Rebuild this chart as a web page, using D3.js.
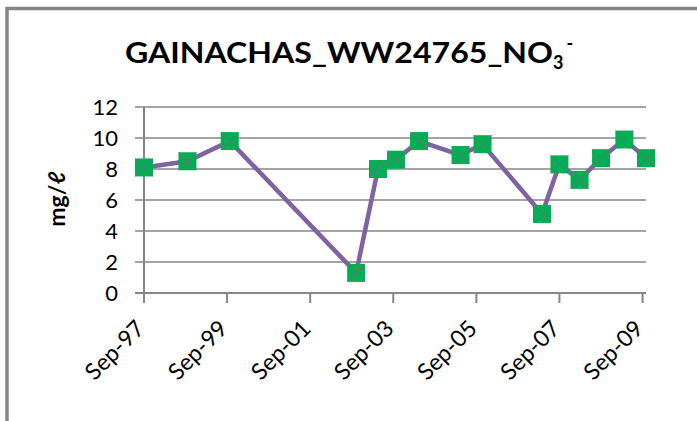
<!DOCTYPE html>
<html>
<head>
<meta charset="utf-8">
<script src="https://cdn.jsdelivr.net/npm/d3@7"></script>
<style>
  body { margin: 0; background: #fff; }
  text { font-family: Lato, "Open Sans", "DejaVu Sans", sans-serif; }
</style>
</head>
<body>
<div id="chart"></div>
<script>
// sample dates and NO3 values (mg/l)
var sampleDates = ["1997-09-01", "1998-09-18", "1999-09-25", "2002-10-10", "2003-04-20",
                   "2003-09-25", "2004-04-15", "2005-04-15", "2005-10-25", "2007-04-01",
                   "2007-09-01", "2008-02-25", "2008-09-01", "2009-03-25", "2009-10-01"];
var no3Values = [8.1, 8.5, 9.8, 1.3, 8.0, 8.6, 9.8, 8.9, 9.6, 5.1, 8.3, 7.3, 8.7, 9.9, 8.7];

// axis ticks
var xTickDates = ["1997-09-01", "1999-09-01", "2001-09-01", "2003-09-01", "2005-09-01", "2007-09-01", "2009-09-01"];
var xTickLabels = ["Sep-97", "Sep-99", "Sep-01", "Sep-03", "Sep-05", "Sep-07", "Sep-09"];
var yTicks = [0, 2, 4, 6, 8, 10, 12];

var parseDate = d3.timeParse("%Y-%m-%d");
var data = sampleDates.map(function(d, i) { return {date: parseDate(d), value: no3Values[i]}; });

var W = 697, H = 421;
var margin = {top: 107, right: 51, bottom: 128, left: 144};
var width = W - margin.left - margin.right,
    height = H - margin.top - margin.bottom;

var svg = d3.select("#chart").append("svg")
    .attr("width", W)
    .attr("height", H);

// chart frame (only top and left edges visible)
svg.append("rect")
    .attr("x", 7).attr("y", 8.5)
    .attr("width", W + 10).attr("height", H + 10)
    .attr("fill", "none")
    .attr("stroke", "#868686")
    .attr("stroke-width", 3.5);

// title
var title = svg.append("text")
    .attr("x", 125).attr("y", 63)
    .attr("font-weight", "bold")
    .attr("font-size", 28)
    .attr("fill", "#000");
title.append("tspan")
    .attr("textLength", 428)
    .attr("lengthAdjust", "spacingAndGlyphs")
    .text("GAINACHAS_WW24765_NO");
title.append("tspan").attr("font-size", 18).attr("dy", 6).text("3");
title.append("tspan").attr("font-size", 18).attr("dy", -19).attr("dx", 3).text("-");

var g = svg.append("g")
    .attr("transform", "translate(" + margin.left + "," + margin.top + ")");

var x = d3.scaleTime()
    .domain([parseDate(xTickDates[0]), parseDate("2009-10-01")])
    .range([0, width]);

var y = d3.scaleLinear()
    .domain([0, 12])
    .range([height, 0]);

// gridlines + y axis ticks
g.selectAll(".grid")
    .data(yTicks.filter(function(d) { return d > 0; }))
    .enter().append("line")
    .attr("x1", -9).attr("x2", width)
    .attr("y1", function(d) { return y(d); })
    .attr("y2", function(d) { return y(d); })
    .attr("stroke", "#868686")
    .attr("stroke-width", 1.6);

g.selectAll(".ylab")
    .data(yTicks)
    .enter().append("text")
    .attr("x", -26)
    .attr("y", function(d) { return y(d); })
    .attr("dy", "0.36em")
    .attr("text-anchor", "end")
    .attr("font-size", 22)
    .attr("fill", "#000")
    .text(function(d) { return d; });

// y axis line
g.append("line")
    .attr("x1", 0).attr("x2", 0)
    .attr("y1", 0).attr("y2", height + 10)
    .attr("stroke", "#868686").attr("stroke-width", 2);

// x axis line and ticks
g.append("line")
    .attr("x1", -9).attr("x2", width)
    .attr("y1", height).attr("y2", height)
    .attr("stroke", "#868686").attr("stroke-width", 2.2);

g.selectAll(".xtick")
    .data(xTickDates)
    .enter().append("line")
    .attr("x1", function(d) { return x(parseDate(d)); })
    .attr("x2", function(d) { return x(parseDate(d)); })
    .attr("y1", height).attr("y2", height + 10)
    .attr("stroke", "#868686").attr("stroke-width", 2);

g.selectAll(".xlab")
    .data(xTickDates)
    .enter().append("text")
    .attr("text-anchor", "end")
    .attr("font-size", 23)
    .attr("fill", "#000")
    .attr("transform", function(d) {
        return "translate(" + (x(parseDate(d)) + 2) + "," + (height + 37) + ")rotate(-45)";
    })
    .text(function(d, i) { return xTickLabels[i]; });

// y axis title
svg.append("text")
    .attr("transform", "translate(65,199)rotate(-90)")
    .attr("text-anchor", "middle")
    .attr("font-size", 23)
    .attr("font-weight", "bold")
    .attr("fill", "#000")
    .text("mg/\u2113");

// line
var line = d3.line()
    .x(function(d) { return x(d.date); })
    .y(function(d) { return y(d.value); });

g.append("path")
    .datum(data)
    .attr("d", line)
    .attr("fill", "none")
    .attr("stroke", "#7E63A0")
    .attr("stroke-width", 4.5)
    .attr("stroke-linejoin", "round");

// markers: green square with a thin purple cross
var s = 9;
var markers = g.selectAll(".marker")
    .data(data)
    .enter().append("g")
    .attr("transform", function(d) { return "translate(" + x(d.date) + "," + y(d.value) + ")"; });

markers.append("rect")
    .attr("x", -s).attr("y", -s)
    .attr("width", 2 * s).attr("height", 2 * s)
    .attr("fill", "#00B050");

markers.append("path")
    .attr("d", "M" + (-s) + "," + (-s) + "L" + s + "," + s + "M" + s + "," + (-s) + "L" + (-s) + "," + s)
    .attr("stroke", "#7E63A0")
    .attr("stroke-width", 0.8)
    .attr("fill", "none");
</script>
</body>
</html>
